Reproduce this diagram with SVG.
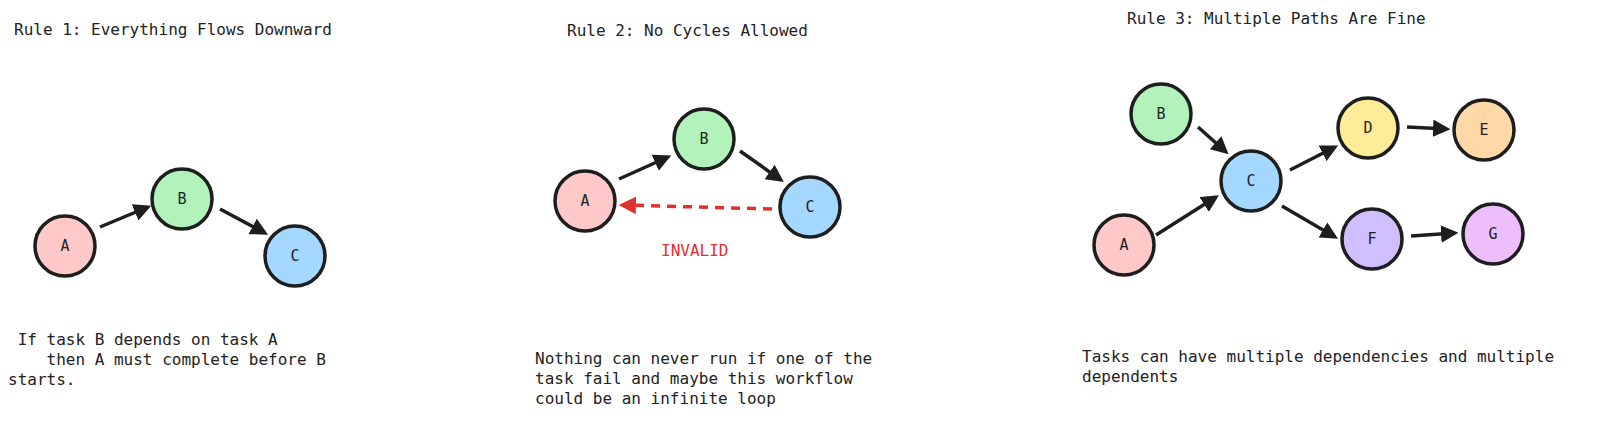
<svg xmlns="http://www.w3.org/2000/svg" width="1600" height="425" viewBox="0 0 1600 425">
<style>
text{font-family:"DejaVu Sans Mono","Liberation Mono",monospace;font-size:16px;fill:#222}
.n circle{stroke:#1e1e1e;stroke-width:3.5}
.n text{font-size:15px;text-anchor:middle;dominant-baseline:central}
.e{stroke:#1e1e1e;stroke-width:3.5;fill:none;marker-end:url(#ah)}
.r{stroke:#e03131;stroke-width:3.5;fill:none;stroke-dasharray:9 7;marker-end:url(#ahr)}
</style>
<defs>
<marker id="ah" viewBox="0 0 10 10" refX="8" refY="5" markerWidth="5" markerHeight="5" orient="auto" markerUnits="strokeWidth"><path d="M0,0 L10,5 L0,10 Z" fill="#1e1e1e"/></marker>
<marker id="ahr" viewBox="0 0 10 10" refX="8" refY="5" markerWidth="5" markerHeight="5" orient="auto" markerUnits="strokeWidth"><path d="M0,0 L10,5 L0,10 Z" fill="#e03131"/></marker>
</defs>
<rect width="1600" height="425" fill="#fff"/>
<text x="14" y="35">Rule 1: Everything Flows Downward</text>
<text x="567" y="36">Rule 2: No Cycles Allowed</text>
<text x="1127" y="24">Rule 3: Multiple Paths Are Fine</text>
<g id="connectors">
<line class="e" x1="100" y1="227" x2="148" y2="207"/>
<line class="e" x1="220" y1="209" x2="265" y2="233"/>
<line class="e" x1="619" y1="179" x2="668" y2="157"/>
<line class="e" x1="740" y1="151" x2="781" y2="180"/>
<line class="r" x1="772" y1="209" x2="622" y2="205"/>
<line class="e" x1="1198" y1="127" x2="1226" y2="152"/>
<line class="e" x1="1156" y1="235" x2="1216" y2="197"/>
<line class="e" x1="1290" y1="170" x2="1335" y2="147"/>
<line class="e" x1="1282" y1="206" x2="1335" y2="237"/>
<line class="e" x1="1407" y1="127" x2="1447" y2="129"/>
<line class="e" x1="1411" y1="236" x2="1455" y2="233"/>
</g>
<g id="p1A" class="n"><circle cx="65" cy="246" r="30" fill="#ffc9c9"/><text x="65" y="246">A</text></g>
<g id="p1B" class="n"><circle cx="182" cy="199" r="30" fill="#b2f2bb"/><text x="182" y="199">B</text></g>
<g id="p1C" class="n"><circle cx="295" cy="256" r="30" fill="#a5d8ff"/><text x="295" y="256">C</text></g>
<g id="p2A" class="n"><circle cx="585" cy="201" r="30" fill="#ffc9c9"/><text x="585" y="201">A</text></g>
<g id="p2B" class="n"><circle cx="704" cy="139" r="30" fill="#b2f2bb"/><text x="704" y="139">B</text></g>
<g id="p2C" class="n"><circle cx="810" cy="207" r="30" fill="#a5d8ff"/><text x="810" y="207">C</text></g>
<g id="p3B" class="n"><circle cx="1161" cy="114" r="30" fill="#b2f2bb"/><text x="1161" y="114">B</text></g>
<g id="p3C" class="n"><circle cx="1251" cy="181" r="30" fill="#a5d8ff"/><text x="1251" y="181">C</text></g>
<g id="p3D" class="n"><circle cx="1368" cy="128" r="30" fill="#ffec99"/><text x="1368" y="128">D</text></g>
<g id="p3E" class="n"><circle cx="1484" cy="130" r="30" fill="#ffd8a8"/><text x="1484" y="130">E</text></g>
<g id="p3A" class="n"><circle cx="1124" cy="245" r="30" fill="#ffc9c9"/><text x="1124" y="245">A</text></g>
<g id="p3F" class="n"><circle cx="1372" cy="239" r="30" fill="#d0bfff"/><text x="1372" y="239">F</text></g>
<g id="p3G" class="n"><circle cx="1493" cy="234" r="30" fill="#eebefa"/><text x="1493" y="234">G</text></g>
<text x="661" y="256" fill="#e03131" style="fill:#e03131">INVALID</text>
<text xml:space="preserve" x="8" y="345"> If task B depends on task A</text>
<text xml:space="preserve" x="8" y="365">    then A must complete before B</text>
<text x="8" y="385">starts.</text>
<text x="535" y="364">Nothing can never run if one of the</text>
<text x="535" y="384">task fail and maybe this workflow</text>
<text x="535" y="404">could be an infinite loop</text>
<text x="1082" y="362">Tasks can have multiple dependencies and multiple</text>
<text x="1082" y="382">dependents</text>
</svg>
